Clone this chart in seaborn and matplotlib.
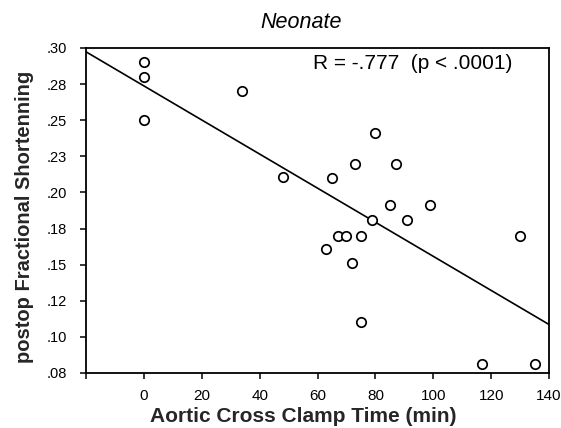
import matplotlib
matplotlib.use("Agg")
import matplotlib.pyplot as plt
import seaborn as sns
import pandas as pd

# Aortic cross clamp time (min) and postoperative fractional shortening, neonates
clamp_time = [0, 0, 0, 34, 48, 65, 73, 80, 87, 85, 99, 79, 91,
              67, 70, 75, 63, 72, 75, 117, 135, 130]
shortening = [0.290, 0.280, 0.250, 0.270, 0.211, 0.210, 0.220, 0.241, 0.220,
              0.191, 0.191, 0.181, 0.181, 0.170, 0.170, 0.170, 0.161, 0.151,
              0.110, 0.081, 0.081, 0.170]

x_ticks = [-20, 0, 20, 40, 60, 80, 100, 120, 140]
x_tick_labels = ["", "0", "20", "40", "60", "80", "100", "120", "140"]
y_ticks = [0.075, 0.10, 0.125, 0.15, 0.175, 0.20, 0.225, 0.25, 0.275, 0.30]
y_tick_labels = [".08", ".10", ".12", ".15", ".18", ".20", ".23", ".25", ".28", ".30"]

title = "Neonate"
stat_text = "R = -.777  (p < .0001)"
x_label = "Aortic Cross Clamp Time (min)"
y_label = "postop Fractional Shortenning"

df = pd.DataFrame({"clamp": clamp_time, "fs": shortening})

sns.set_theme(style="white")
plt.rcParams["font.family"] = ["Liberation Sans", "DejaVu Sans"]

fig = plt.figure(figsize=(5.61, 4.28), dpi=100)
ax = fig.add_axes([86 / 561, 1 - 373 / 428, (549 - 86) / 561, (373 - 48) / 428])

ax.set_xlim(-20, 140)
ax.set_ylim(0.075, 0.30)

# least-squares line across the full axis width
sns.regplot(data=df, x="clamp", y="fs", ax=ax, scatter=False, ci=None,
            truncate=False, line_kws={"color": "black", "lw": 1.2})

sns.scatterplot(data=df, x="clamp", y="fs", ax=ax, s=46, marker="o",
                facecolor="white", edgecolor="black", linewidth=1.25, zorder=3)

ax.set_xlim(-20, 140)
ax.set_ylim(0.075, 0.30)
ax.set_xticks(x_ticks)
ax.set_xticklabels(x_tick_labels, fontsize=11)
ax.set_yticks(y_ticks)
ax.set_yticklabels(y_tick_labels, fontsize=10.5)
ax.tick_params(axis="both", direction="out", length=4, width=1.1,
               color="black", labelcolor="black",
               bottom=True, left=True)
ax.tick_params(axis="x", pad=7.5)
ax.tick_params(axis="y", pad=9.5)

for sp in ax.spines.values():
    sp.set_color("black")
    sp.set_linewidth(1.3)

ax.set_xlabel(x_label, fontsize=15, fontweight="bold", labelpad=3)
ax.set_ylabel(y_label, fontsize=14.5, fontweight="bold", labelpad=9)
ax.xaxis.label.set_x(0.47)
ax.yaxis.label.set_y(0.48)

ax.text(0.49, 0.951, stat_text, transform=ax.transAxes, fontsize=15,
        ha="left", va="center", color="black")

fig.text(301 / 561, 1 - 23 / 428, title, fontsize=15.5, style="italic",
         ha="center", va="center", color="black")

fig.savefig("out.png", dpi=100, facecolor="white")
